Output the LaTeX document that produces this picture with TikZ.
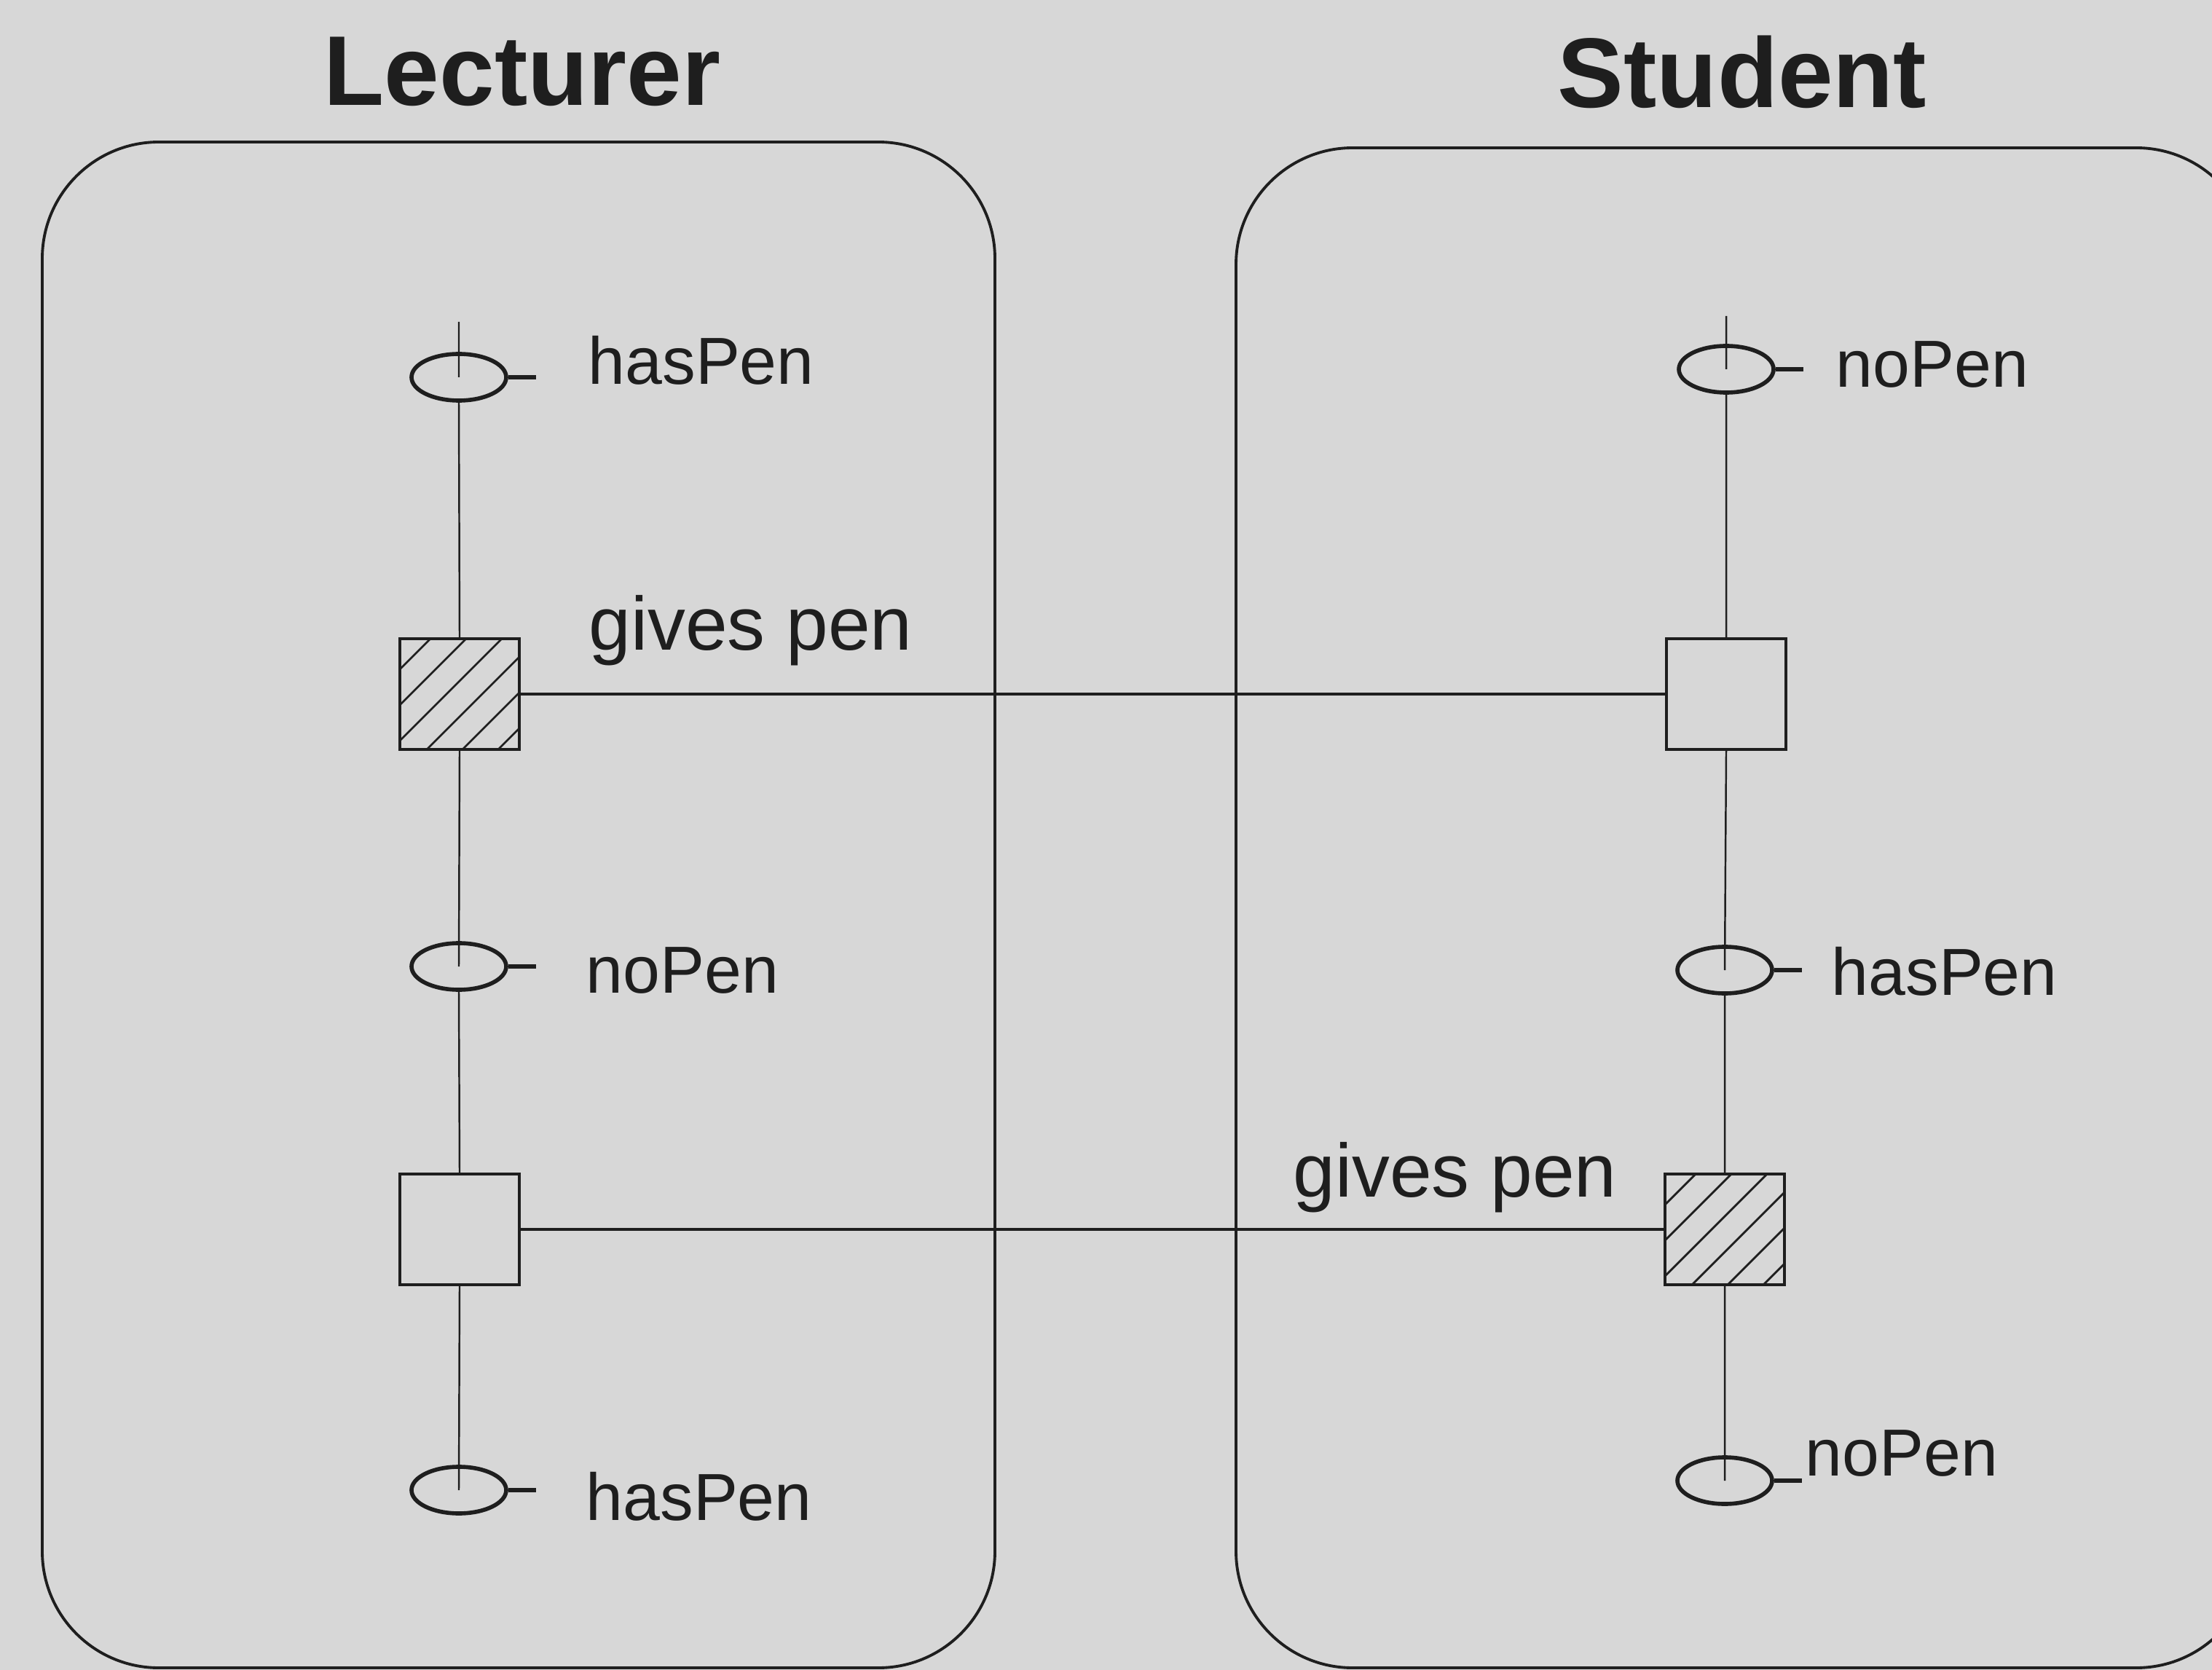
\documentclass[tikz,border=0pt]{standalone}
\usepackage{fontspec}
\setmainfont{Liberation Sans}
\usetikzlibrary{shapes.geometric}

\definecolor{paper}{RGB}{215,215,215}
\definecolor{ink}{RGB}{30,30,30}

\tikzset{
  lane/.style={draw=ink,line width=1.1pt,rounded corners=1.6cm},
  life/.style={draw=ink,line width=0.7pt},
  msgline/.style={draw=ink,line width=1.1pt},
  state/.style={ellipse,draw=ink,line width=1.6pt,minimum width=1.30cm,minimum height=0.64cm,inner sep=0pt},
  statetick/.style={draw=ink,line width=1.6pt},
  act/.style={rectangle,draw=ink,line width=0.9pt,fill=paper,minimum width=1.64cm,minimum height=1.52cm,inner sep=0pt},
  sender/.style={act,path picture={
      \foreach \k in {-3,...,3}
        \draw[ink,line width=0.8pt] ([xshift=\k*0.49cm+0.37cm]path picture bounding box.south west) -- ++(2,2);}},
  lbl/.style={anchor=base west,inner sep=0pt,text=ink,font=\fontsize{26}{31}\selectfont},
  msg/.style={anchor=base west,inner sep=0pt,text=ink,font=\fontsize{29.5}{35}\selectfont},
  role/.style={anchor=base,inner sep=0pt,text=ink,font=\bfseries\fontsize{38.7}{46}\selectfont},
}

\begin{document}
\begin{tikzpicture}
\fill[paper] (0,0) rectangle (30.37,-22.93);
\clip (0,0) rectangle (30.37,-22.93);

% the two roles
\draw[lane] (0.58,-1.95) rectangle (13.66,-22.90);
\draw[lane] (16.97,-2.03) rectangle (30.93,-22.90);
\node[role] (lecturer) at (7.17,-1.45) {Lecturer};
\node[role] (student) at (23.92,-1.48) {Student};

% lecturer
\coordinate (ltop) at (6.30,-4.42);
\node[state] (l1) at (6.30,-5.18) {};
\node[act,sender] (lg) at (6.31,-9.53) {};
\node[state] (l2) at (6.30,-13.27) {};
\node[act] (lr) at (6.31,-16.88) {};
\node[state] (l3) at (6.30,-20.46) {};

% student
\coordinate (stop) at (23.70,-4.34);
\node[state] (s1) at (23.70,-5.07) {};
\node[act] (sr) at (23.70,-9.53) {};
\node[state] (s2) at (23.68,-13.32) {};
\node[act,sender] (sg) at (23.68,-16.88) {};
\node[state] (s3) at (23.68,-20.33) {};

\draw[life] (ltop) -- (l1.center) (l1.south) -- (lg.north) (lg.south) -- (l2.center)
  (l2.south) -- (lr.north) (lr.south) -- (l3.center);
\draw[life] (stop) -- (s1.center) (s1.south) -- (sr.north) (sr.south) -- (s2.center)
  (s2.south) -- (sg.north) (sg.south) -- (s3.center);
\foreach \n in {l1,l2,l3,s1,s2,s3}
  \draw[statetick] (\n.east) -- ++(0.38,0);

\draw[msgline] (lg.east) -- (sr.west);
\draw[msgline] (lr.east) -- (sg.west);

\node[lbl] (l1txt) at (8.07,-5.28) {hasPen};
\node[msg] (lgtxt) at (8.08,-8.93) {gives pen};
\node[lbl] (l2txt) at (8.04,-13.63) {noPen};
\node[lbl] (l3txt) at (8.04,-20.87) {hasPen};
\node[lbl] (s1txt) at (25.20,-5.32) {noPen};
\node[lbl] (s2txt) at (25.14,-13.66) {hasPen};
\node[msg] (sgtxt) at (17.75,-16.43) {gives pen};
\node[lbl] (s3txt) at (24.78,-20.26) {noPen};
\end{tikzpicture}
\end{document}
